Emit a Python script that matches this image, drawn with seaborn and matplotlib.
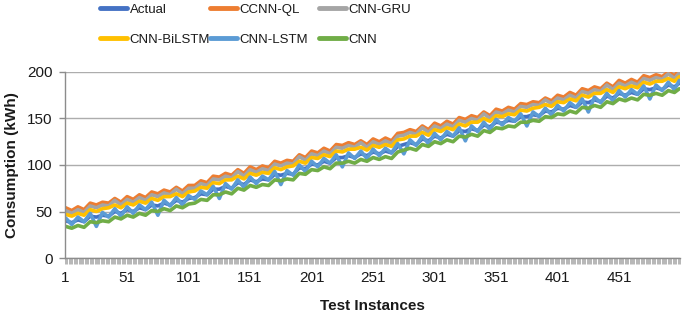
import numpy as np
import pandas as pd
import matplotlib
matplotlib.use('Agg')
import matplotlib.pyplot as plt
from matplotlib.lines import Line2D
import seaborn as sns

# ── Data (one point every 5 test instances) ──────────────────────────────────
instances = list(range(1, 500, 5)) + [500]

actual = [40, 38, 41, 39, 45, 44, 46, 45, 50, 48, 52, 50, 54, 52, 57, 56, 59, 57, 62, 60,
          64, 65, 69, 68, 74, 74, 77, 75, 81, 79, 84, 82, 85, 84, 90, 89, 91, 90, 97, 96,
          101, 100, 104, 102, 108, 108, 110, 108, 112, 110, 114, 112, 115, 113, 120, 122, 124, 122, 128, 126,
          131, 129, 133, 131, 137, 136, 139, 137, 143, 141, 146, 145, 148, 147, 152, 152, 154, 153, 158, 157,
          161, 160, 164, 162, 168, 167, 170, 168, 174, 172, 177, 175, 178, 176, 182, 181, 183, 181, 186, 184,
          188]
ccnn_ql = [54, 51, 55, 52, 59, 57, 60, 59, 64, 60, 66, 63, 68, 65, 71, 69, 73, 71, 76, 72,
           78, 78, 83, 81, 88, 87, 91, 89, 95, 91, 98, 95, 99, 97, 104, 102, 105, 104, 111, 108,
           115, 113, 118, 115, 122, 121, 124, 122, 126, 122, 128, 125, 129, 126, 134, 135, 138, 136, 142, 138,
           145, 142, 147, 144, 151, 149, 153, 151, 157, 153, 160, 158, 162, 160, 166, 165, 168, 167, 172, 169,
           175, 173, 178, 175, 182, 180, 184, 182, 188, 184, 191, 188, 192, 189, 196, 194, 197, 195, 200, 196,
           202]
cnn_gru = [51, 48, 52, 49, 56, 54, 57, 56, 62, 57, 63, 60, 65, 62, 68, 66, 70, 68, 74, 69,
           75, 75, 80, 78, 85, 84, 88, 86, 93, 88, 95, 92, 96, 94, 101, 99, 102, 101, 109, 105,
           112, 110, 115, 112, 119, 118, 121, 119, 124, 119, 125, 122, 126, 123, 131, 132, 135, 133, 140, 135,
           142, 139, 144, 141, 148, 146, 150, 148, 155, 150, 157, 155, 159, 157, 163, 162, 165, 164, 170, 166,
           172, 170, 175, 172, 179, 177, 181, 179, 186, 181, 188, 185, 189, 186, 193, 191, 194, 192, 198, 193,
           199]
cnn_bilstm = [47, 45, 48, 46, 52, 50, 53, 54, 57, 54, 59, 57, 61, 59, 64, 62, 66, 66, 69, 66,
              71, 72, 76, 75, 81, 80, 84, 84, 88, 85, 91, 89, 92, 91, 97, 95, 98, 99, 104, 102,
              108, 107, 111, 109, 115, 114, 117, 117, 119, 116, 121, 119, 122, 120, 127, 128, 131, 131, 135, 132,
              138, 136, 140, 138, 144, 142, 146, 146, 150, 147, 153, 152, 155, 154, 159, 158, 161, 162, 165, 163,
              168, 167, 171, 169, 175, 173, 177, 177, 181, 178, 184, 182, 185, 183, 189, 187, 190, 190, 193, 190,
              195]
cnn_lstm = [43, 36, 44, 39, 48, 34, 49, 44, 53, 45, 55, 48, 57, 52, 60, 46, 62, 56, 65, 57,
            67, 63, 72, 68, 77, 64, 80, 74, 84, 76, 87, 80, 88, 84, 93, 79, 94, 89, 100, 93,
            104, 98, 107, 102, 111, 98, 113, 107, 115, 107, 117, 110, 118, 113, 123, 112, 127, 121, 131, 123,
            134, 127, 136, 131, 140, 126, 142, 136, 146, 138, 149, 143, 151, 147, 155, 142, 157, 152, 161, 154,
            164, 158, 167, 162, 171, 157, 173, 167, 177, 169, 180, 173, 181, 176, 185, 171, 186, 180, 189, 181,
            191]
cnn = [34, 32, 35, 33, 39, 38, 40, 39, 44, 42, 46, 44, 48, 46, 51, 50, 53, 51, 56, 54,
       58, 59, 63, 62, 68, 68, 71, 69, 75, 73, 78, 76, 79, 78, 84, 83, 85, 84, 91, 90,
       95, 94, 98, 96, 102, 102, 104, 102, 106, 104, 108, 106, 109, 107, 114, 116, 118, 116, 122, 120,
       125, 123, 127, 125, 131, 130, 133, 131, 137, 135, 140, 139, 142, 141, 146, 146, 148, 147, 152, 151,
       155, 154, 158, 156, 162, 161, 164, 162, 168, 166, 171, 169, 172, 170, 176, 175, 177, 175, 180, 178,
       182]

models = ['Actual', 'CCNN-QL', 'CNN-GRU', 'CNN-BiLSTM', 'CNN-LSTM', 'CNN']
series = [actual, ccnn_ql, cnn_gru, cnn_bilstm, cnn_lstm, cnn]
tick_labels = ['1', '51', '101', '151', '201', '251', '301', '351', '401', '451']

# ── Colors ───────────────────────────────────────────────────────────────────
palette = {'Actual': '#4472C4', 'CCNN-QL': '#ED7D31', 'CNN-GRU': '#A5A5A5',
           'CNN-BiLSTM': '#FFC000', 'CNN-LSTM': '#5B9BD5', 'CNN': '#70AD47'}
AXIS = '#8C8C8C'
GRID = '#ADADAD'
TEXT = '#1A1A1A'

df = pd.concat([pd.DataFrame({'Instance': instances, 'Value': vals, 'Model': m})
                for m, vals in zip(models, series)], ignore_index=True)

sns.set_style('white')
plt.rcParams['font.family'] = ['Liberation Sans', 'DejaVu Sans']
plt.rcParams['xtick.bottom'] = True
plt.rcParams['ytick.left'] = True

fig = plt.figure(figsize=(6.85, 3.13), dpi=100)
ax = fig.add_axes([0.0949, 0.1757, 0.8978, 0.5943])

sns.lineplot(data=df, x='Instance', y='Value', hue='Model', hue_order=models,
             palette=palette, linewidth=2.6, sort=False, legend=False, ax=ax)

ax.set_xlim(0.5, 500.5)
ax.set_ylim(0, 200)
ax.set_yticks([0, 50, 100, 150, 200])
ax.yaxis.grid(True, color=GRID, linewidth=1.0)
ax.set_axisbelow(True)

ax.set_xticks([int(t) for t in tick_labels])
ax.set_xticklabels(tick_labels)
ax.set_xticks(np.arange(0.5, 501, 1), minor=True)
ax.tick_params(axis='x', which='major', bottom=False, pad=6, labelsize=11, labelcolor=TEXT)
ax.tick_params(axis='x', which='minor', bottom=True, length=4, width=0.5, color='#9A9A9A',
               direction='out')
ax.tick_params(axis='y', which='major', length=4, width=1, color=AXIS, pad=5,
               labelsize=11, labelcolor=TEXT, left=True)

ax.spines[['top', 'right']].set_visible(False)
ax.spines[['left', 'bottom']].set_color(AXIS)
ax.spines[['left', 'bottom']].set_linewidth(1.0)

ax.set_xlabel('Test Instances', fontsize=11, fontweight='bold', color=TEXT, labelpad=10)
ax.set_ylabel('Consumption (kWh)', fontsize=11, fontweight='bold', color=TEXT, labelpad=6)

# legend: three fixed-width columns, filled row by row like the original
columns = [(['Actual', 'CNN-BiLSTM'], 100), (['CCNN-QL', 'CNN-LSTM'], 210),
           (['CNN-GRU', 'CNN'], 319)]
for names, xpix in columns:
    handles = [Line2D([0], [0], color=palette[n], linewidth=3.5, solid_capstyle='round')
               for n in names]
    fig.legend(handles, names, loc='upper left', bbox_to_anchor=(xpix / 685, 0.988),
               frameon=False, fontsize=9.5, handlelength=2.05, handletextpad=0.2,
               labelspacing=1.35, borderpad=0, borderaxespad=0, labelcolor=TEXT)

plt.savefig('out.png', dpi=100, facecolor='white')
